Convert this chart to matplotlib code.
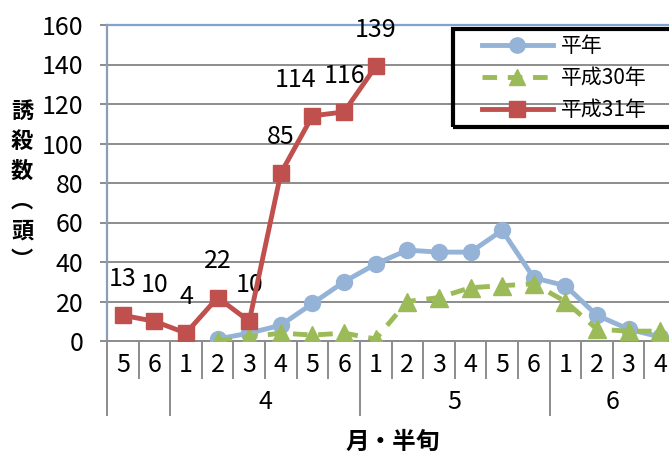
import matplotlib
matplotlib.use("Agg")
import matplotlib.pyplot as plt
import matplotlib.transforms as mtransforms
from matplotlib.lines import Line2D
from matplotlib.patches import Rectangle
import numpy as np

plt.rcParams['font.family'] = ['Noto Sans CJK JP', 'DejaVu Sans']
NUM_FONT = ['Liberation Sans Narrow', 'Noto Sans CJK JP']

# month groups and half-month (半旬) labels
MONTH_LABELS = ['', '4', '5', '6']
HALF_LABELS = [['5', '6'],
               ['1', '2', '3', '4', '5', '6'],
               ['1', '2', '3', '4', '5', '6'],
               ['1', '2', '3', '4']]

nan = np.nan
NORMAL = [nan, nan, nan, 1, 4, 8, 19, 30, 39, 46, 45, 45, 56, 32, 28, 13, 6, 2]
H30 = [nan, nan, nan, 0, 2, 4, 3, 4, 1, 20, 22, 27, 28, 29, 20, 6, 5, 5]
H31 = [13, 10, 4, 22, 10, 85, 114, 116, 139, nan, nan, nan, nan, nan, nan, nan, nan, nan]
SERIES_NAMES = ['平年', '平成30年', '平成31年']

Y_TICKS = [0, 20, 40, 60, 80, 100, 120, 140, 160]

BLUE = '#95B3D7'
GREEN = '#9BBB59'
RED = '#C0504D'
GRID = '#8C8C8C'


def draw_category_axis(ax):
    """Two-level category axis: half-month numbers above, month below."""
    trans = mtransforms.blended_transform_factory(ax.transData, ax.transAxes)
    pos = 0
    for month, halves in zip(MONTH_LABELS, HALF_LABELS):
        start = pos - 0.5
        ax.plot([start, start], [0, -0.234], transform=trans, color=GRID,
                lw=1.4, clip_on=False)
        for lab in halves:
            ax.text(pos, -0.076, lab, transform=trans, ha='center', va='center',
                    fontsize=18, family=NUM_FONT)
            if pos - 0.5 != start:
                ax.plot([pos - 0.5, pos - 0.5], [0, -0.117], transform=trans,
                        color=GRID, lw=1.4, clip_on=False)
            pos += 1
        ax.text((start + pos - 0.5) / 2, -0.193, month, transform=trans,
                ha='center', va='center', fontsize=18, family=NUM_FONT)
    ax.plot([pos - 0.5, pos - 0.5], [0, -0.234], transform=trans, color=GRID,
            lw=1.4, clip_on=False)
    return pos


fig = plt.figure(figsize=(6.69, 4.54), dpi=100)
ax = fig.add_axes([107 / 669, 1 - 341 / 454, 569 / 669, 316 / 454])

x = np.arange(len(H31))
ax.plot(x, NORMAL, color=BLUE, lw=3.5, marker='o', ms=11.5, zorder=3)
ax.plot(x, H30, color=GREEN, lw=3.5, ls=(0, (3, 2.2)), marker='^', ms=12.5,
        zorder=4)
ax.plot(x, H31, color=RED, lw=3.5, marker='s', ms=11.5, zorder=5)

# data labels for 平成31年 (one label nudged left as in the original)
label_shift = {6: -12}
for i, v in enumerate(H31):
    if np.isnan(v):
        continue
    ax.annotate(f'{v:d}', (i, v), xytext=(label_shift.get(i, 0), 26),
                textcoords='offset points', ha='center', va='center',
                fontsize=18, family=NUM_FONT)

n = draw_category_axis(ax)
ax.set_xlim(-0.5, n - 0.5)
ax.set_ylim(0, 160)
ax.set_xticks([])
ax.set_yticks(Y_TICKS)
ax.tick_params(axis='y', length=5, width=1.4, color=GRID, labelsize=18, pad=12)
for lab in ax.get_yticklabels():
    lab.set_family(NUM_FONT)
ax.yaxis.grid(True, color=GRID, lw=1.4)
ax.set_axisbelow(True)

ax.spines['right'].set_visible(False)
ax.spines['top'].set_color('#7FA3D0')
ax.spines['top'].set_linewidth(1.6)
ax.spines['left'].set_color('#8D9DB5')
ax.spines['left'].set_linewidth(1.6)
ax.spines['bottom'].set_color(GRID)
ax.spines['bottom'].set_linewidth(1.4)

# axis titles
fig.text(22 / 669, 1 - 186 / 454, '誘\n殺\n数\n︵\n頭\n︶', ha='center',
         va='center', fontsize=16, fontweight='bold', linespacing=1.38)
fig.text(393 / 669, 1 - 442 / 454, '月・半旬', ha='center', va='center',
         fontsize=17, fontweight='bold')

# legend with a heavy black box
fig.patches.append(Rectangle((453 / 669, 1 - 127 / 454), 0.4, 98 / 454,
                             transform=fig.transFigure, fill=False,
                             edgecolor='black', lw=3, zorder=10))
handles = [
    Line2D([], [], color=BLUE, lw=3.5, marker='o', ms=11),
    Line2D([], [], color=GREEN, lw=3.5, ls=(0, (3, 2.2)), marker='^', ms=11),
    Line2D([], [], color=RED, lw=3.5, marker='s', ms=11),
]
fig.legend(handles, SERIES_NAMES, loc='upper left',
           bbox_to_anchor=(482 / 669, 1 - 35 / 454), frameon=False,
           fontsize=15, handlelength=3.4, handletextpad=0.4, borderpad=0,
           borderaxespad=0, labelspacing=0.48)

fig.savefig('out.png', dpi=100)
